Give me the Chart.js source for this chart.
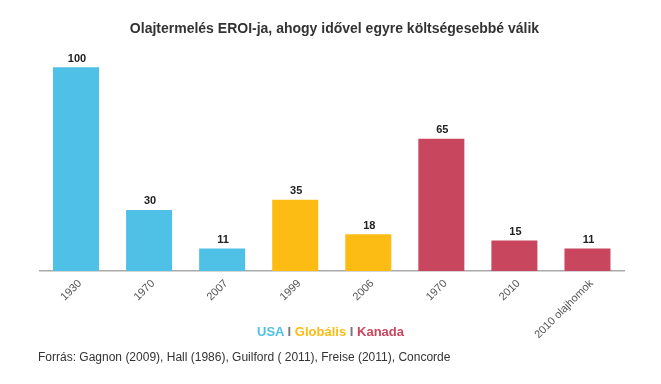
<!DOCTYPE html>
<html>
<head>
<meta charset="utf-8">
<script src="https://cdn.jsdelivr.net/npm/chart.js@4/dist/chart.umd.min.js"></script>
<style>
html,body{margin:0;padding:0;background:#fff;}
#wrap{position:relative;width:661px;height:384px;font-family:"Liberation Sans",Arial,sans-serif;}
canvas{position:absolute;left:0;top:0;}
#title{position:absolute;left:4px;width:661px;top:20px;text-align:center;font-weight:bold;font-size:14px;color:#333;}
#legend{position:absolute;left:0;width:661px;top:324px;text-align:center;font-weight:bold;font-size:13px;}
#source{position:absolute;left:38px;top:350px;font-size:12px;color:#333;}
</style>
</head>
<body>
<div id="wrap">
<canvas id="c" width="661" height="384"></canvas>
<div id="title">Olajtermelés EROI-ja, ahogy idővel egyre költségesebbé válik</div>
<div id="legend"><span style="color:#4fc1e6">USA</span> <span style="color:#777">I</span> <span style="color:#fcbc14">Globális</span> <span style="color:#777">I</span> <span style="color:#c8475e">Kanada</span></div>
<div id="source">Forrás: Gagnon (2009), Hall (1986), Guilford ( 2011), Freise (2011), Concorde</div>
</div>
<script>
const categories = ["1930","1970","2007","1999","2006","1970","2010","2010 olajhomok"];
const regions = ["USA","USA","USA","Globális","Globális","Kanada","Kanada","Kanada"];
const eroiValues = [100,30,11,35,18,65,15,11];
const regionColors = {"USA":"#4fc1e6","Globális":"#fcbc14","Kanada":"#c8475e"};

const labelPlugin = {
  id:'vals',
  afterDatasetsDraw(chart){
    const ctx = chart.ctx;
    const meta = chart.getDatasetMeta(0);
    ctx.save();
    ctx.font = 'bold 11px "Liberation Sans", Arial, sans-serif';
    ctx.fillStyle = '#222';
    ctx.textAlign = 'center';
    ctx.textBaseline = 'bottom';
    meta.data.forEach((bar,i)=>{
      ctx.fillText(String(eroiValues[i]), bar.x + 1, bar.y - 3);
    });
    ctx.restore();
  }
};

new Chart(document.getElementById('c'),{
  type:'bar',
  data:{
    labels:categories,
    datasets:[{
      data:eroiValues,
      backgroundColor:regions.map(r=>regionColors[r]),
      borderWidth:0,
      categoryPercentage:1,
      barPercentage:0.63
    }]
  },
  options:{
    responsive:false,
    animation:false,
    events:[],
    layout:{padding:{left:39.5,right:37,top:47,bottom:0}},
    plugins:{legend:{display:false},title:{display:false},tooltip:{enabled:false}},
    scales:{
      x:{
        grid:{display:false,drawTicks:false},
        border:{color:'#aaa',width:1.5},
        ticks:{minRotation:45,maxRotation:45,color:'#555',padding:6,labelOffset:4,font:{size:11,family:'"Liberation Sans", Arial, sans-serif'}},
        afterFit(scale){scale.height=113;}
      },
      y:{display:false,min:0,max:110}
    }
  },
  plugins:[labelPlugin]
});
</script>
</body>
</html>
